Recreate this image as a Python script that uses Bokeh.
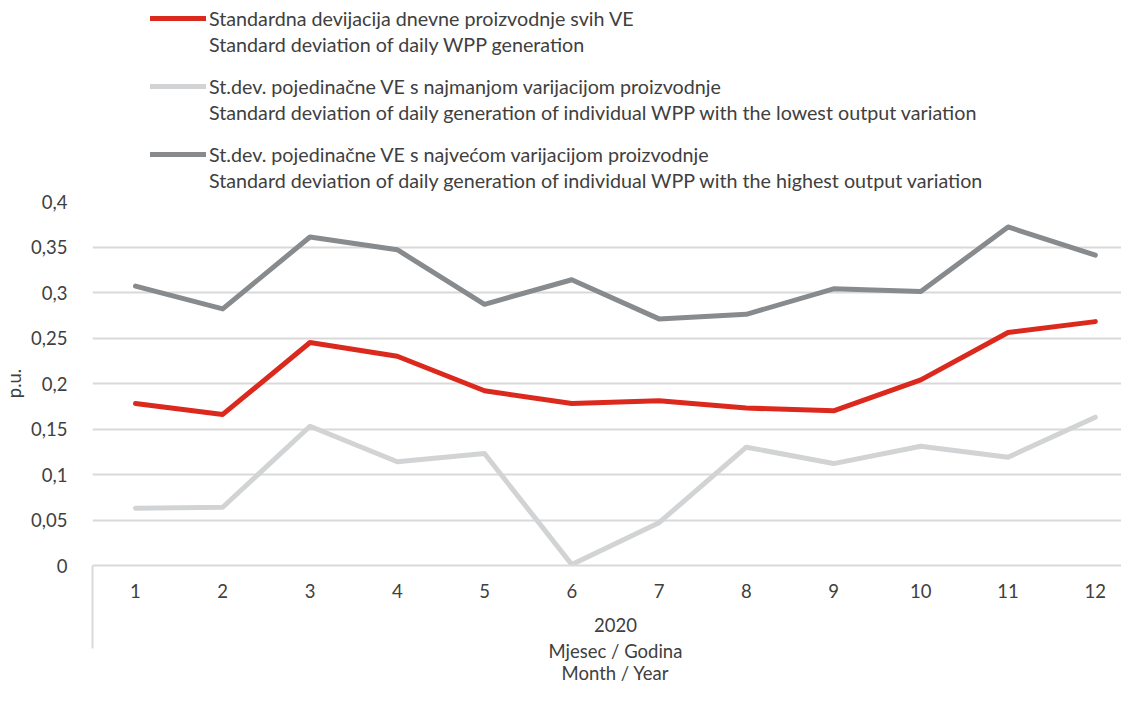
from bokeh.plotting import figure
from bokeh.models import Legend, LegendItem, FixedTicker, LinearAxis
from bokeh.layouts import column
from bokeh.embed import file_html
from bokeh.resources import INLINE

months = [1, 2, 3, 4, 5, 6, 7, 8, 9, 10, 11, 12]
month_labels = ["1", "2", "3", "4", "5", "6", "7", "8", "9", "10", "11", "12"]
year_label = "2020"
all_wpp = [0.178, 0.166, 0.245, 0.230, 0.192, 0.178, 0.181, 0.173, 0.170, 0.204, 0.256, 0.268]
lowest_wpp = [0.063, 0.064, 0.153, 0.114, 0.123, 0.001, 0.047, 0.130, 0.112, 0.131, 0.119, 0.163]
highest_wpp = [0.307, 0.282, 0.361, 0.347, 0.287, 0.314, 0.271, 0.276, 0.304, 0.301, 0.372, 0.341]
y_ticks = [0, 0.05, 0.1, 0.15, 0.2, 0.25, 0.3, 0.35, 0.4]
y_tick_labels = ["0", "0,05", "0,1", "0,15", "0,2", "0,25", "0,3", "0,35", "0,4"]
names_hr = [
    "Standardna devijacija dnevne proizvodnje svih VE",
    "St.dev. pojedinačne VE s najmanjom varijacijom proizvodnje",
    "St.dev. pojedinačne VE s najvećom varijacijom proizvodnje",
]
names_en = [
    "Standard deviation of daily WPP generation",
    "Standard deviation of daily generation of individual WPP with the lowest output variation",
    "Standard deviation of daily generation of individual WPP with the highest output variation",
]
axis_title = ["Mjesec / Godina", "Month / Year"]

FONT = "Lato"
FS = "18.5px"
LFS = "19.7px"
TXT = "#404040"
GRID = "#d9d9d9"
COLORS = ["#dc291e", "#d1d3d4", "#878b8e"]
series = [all_wpp, lowest_wpp, highest_wpp]

# ---- legend strip (top) ----
leg = figure(width=1121, height=192, output_backend="svg", toolbar_location=None,
             x_range=(0, 13), y_range=(10, 11),
             min_border=0, x_axis_location=None, y_axis_location=None)
leg.outline_line_color = None
leg.grid.visible = False
leg_lines = [leg.line(months, s, line_color=c, line_width=5, line_cap="round") for s, c in zip(series, COLORS)]
leg_blank = [leg.line(months, s, line_alpha=0) for s in series]

common = dict(orientation="vertical", label_text_font=FONT, label_text_font_size=LFS,
              label_text_color=TXT, glyph_width=56, glyph_height=24, label_height=24,
              label_standoff=3, spacing=44, padding=0, margin=0,
              border_line_color=None, background_fill_alpha=0)
legend_hr = Legend(items=[LegendItem(label=n, renderers=[r]) for n, r in zip(names_hr, leg_lines)],
                   location=(58, 26), **common)
legend_en = Legend(items=[LegendItem(label=n, renderers=[r]) for n, r in zip(names_en, leg_blank)],
                   location=(58, 0), **common)
leg.add_layout(legend_hr)
leg.add_layout(legend_en)

# ---- main chart ----
p = figure(width=1121, height=494, output_backend="svg", toolbar_location=None,
           x_range=(0.5075, 12.30), y_range=(0, 0.4),
           min_border_left=92, min_border_right=0, min_border_top=9, min_border_bottom=121)
p.outline_line_color = None

p.xgrid.grid_line_color = None
p.ygrid.grid_line_color = GRID
p.ygrid.grid_line_width = 2
p.ygrid.ticker = FixedTicker(ticks=y_ticks)

p.yaxis.ticker = FixedTicker(ticks=y_ticks)
p.yaxis.major_label_overrides = dict(zip(y_ticks, y_tick_labels))
p.yaxis.axis_line_color = None
p.yaxis.major_tick_line_color = None
p.yaxis.minor_tick_line_color = None
p.yaxis.major_label_standoff = 19
p.yaxis.major_label_text_font = FONT
p.yaxis.major_label_text_font_size = FS
p.yaxis.major_label_text_color = TXT
p.yaxis.axis_label = "p.u."
p.yaxis.axis_label_text_font = FONT
p.yaxis.axis_label_text_font_size = FS
p.yaxis.axis_label_text_font_style = "normal"
p.yaxis.axis_label_text_color = TXT
p.yaxis.axis_label_standoff = 3

xa = p.xaxis[0]
xa.ticker = FixedTicker(ticks=months, minor_ticks=[0.5076])
xa.major_label_overrides = dict(zip(months, month_labels))
xa.axis_line_color = GRID
xa.axis_line_width = 2
xa.major_tick_line_color = None
xa.major_tick_out = 0
xa.major_tick_in = 0
xa.minor_tick_line_color = GRID
xa.minor_tick_line_width = 2
xa.minor_tick_in = 0
xa.minor_tick_out = 83
xa.major_label_standoff = -65
xa.major_label_text_font = FONT
xa.major_label_text_font_size = FS
xa.major_label_text_color = TXT

mid = (months[0] + months[-1]) / 2
for title, standoff in zip([year_label] + axis_title, [17, 5, -3]):
    ax = LinearAxis(ticker=FixedTicker(ticks=[mid]), major_label_overrides={mid: title},
                    axis_line_color=None,
                    major_tick_line_color=None, minor_tick_line_color=None,
                    major_tick_out=0, major_tick_in=0, minor_tick_out=0, minor_tick_in=0,
                    major_label_standoff=standoff,
                    major_label_text_font=FONT, major_label_text_font_size=FS,
                    major_label_text_color=TXT)
    p.add_layout(ax, "below")

for s, c in zip([highest_wpp, lowest_wpp, all_wpp], [COLORS[2], COLORS[1], COLORS[0]]):
    p.line(months, s, line_color=c, line_width=5, line_cap="round", line_join="round")

layout = column(leg, p, spacing=0)
open("out.html", "w").write(file_html(layout, INLINE))
